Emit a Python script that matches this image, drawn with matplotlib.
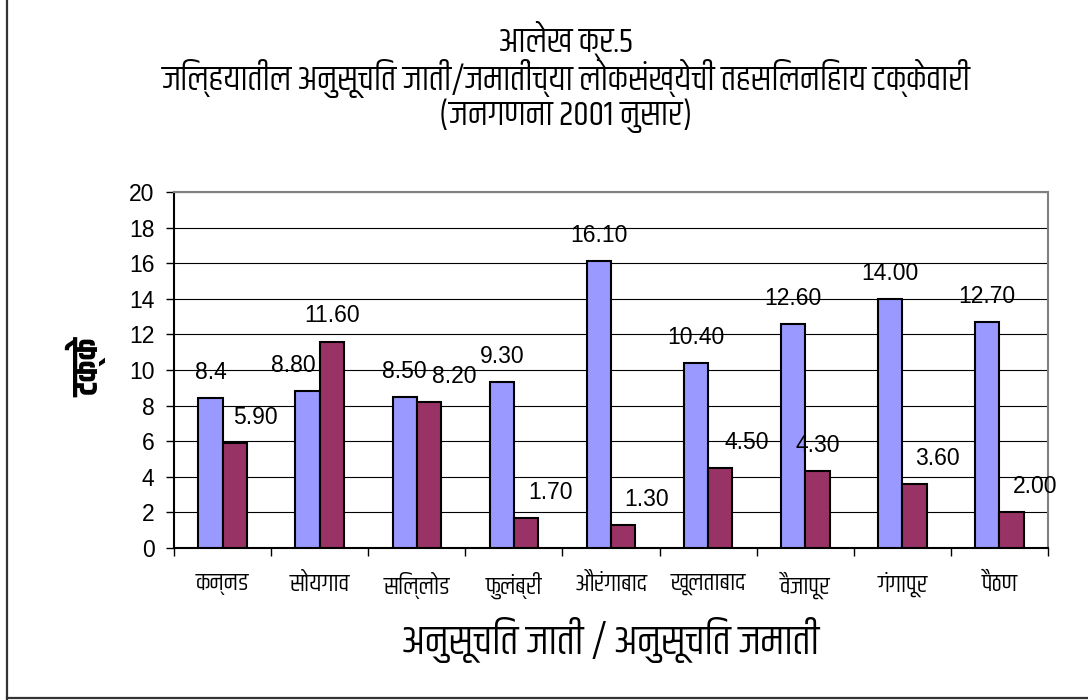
import matplotlib
matplotlib.use("Agg")
import matplotlib.pyplot as plt
import numpy as np
from matplotlib import font_manager
from matplotlib.lines import Line2D

# ---------------- data ----------------
title_lines = ["आलेख क्र.5",
               "जिल्हयातील अनुसूचित जाती/जमातींच्या लोकसंख्येची तहसिलनिहाय टक्केवारी",
               "(जनगणना 2001 नुसार)"]
categories = ["कन्नड", "सोयगाव", "सिल्लोड", "फुलंब्री", "औरंगाबाद",
              "खूलताबाद", "वैजापूर", "गंगापूर", "पैठण"]
sc_values = [8.4, 8.8, 8.5, 9.3, 16.1, 10.4, 12.6, 14.0, 12.7]
st_values = [5.9, 11.6, 8.2, 1.7, 1.3, 4.5, 4.3, 3.6, 2.0]
sc_labels = ["8.4", "8.80", "8.50", "9.30", "16.10", "10.40", "12.60", "14.00", "12.70"]
st_labels = ["5.90", "11.60", "8.20", "1.70", "1.30", "4.50", "4.30", "3.60", "2.00"]
yticks = [0, 2, 4, 6, 8, 10, 12, 14, 16, 18, 20]
xlabel = "अनुसूचित जाती / अनुसूचित जमाती"
ylabel = "टक्के"

# label horizontal shifts (in bar widths), mimicking the original placement
sc_shift = [0, -0.6, 0, 0, 0, 0, 0, 0, 0]
st_shift = [0.85, 0, 1.05, 1.0, 0.95, 1.1, 0, 0.95, 0.95]

# ---------------- fonts ----------------
available = {f.name for f in font_manager.fontManager.ttflist}
deva_font = next((n for n in ["Khand", "Rajdhani", "Noto Sans Devanagari", "FreeSans"]
                  if n in available), "DejaVu Sans")
num_font = next((n for n in ["Liberation Sans", "DejaVu Sans"] if n in available),
                "DejaVu Sans")
deva_fam = [deva_font, "DejaVu Sans"]
plt.rcParams["font.family"] = [num_font, "DejaVu Sans"]

# ---------------- figure ----------------
fig = plt.figure(figsize=(10.88, 7.0), dpi=100)
ax = fig.add_axes([174 / 1088, 1 - 548 / 700, (1048 - 174) / 1088, (548 - 192) / 700])

x = np.arange(len(categories))
w = 0.25
blue = "#9999FF"
red = "#993366"
ax.bar(x - w / 2, sc_values, w, color=blue, edgecolor="black", linewidth=1.5, zorder=3)
ax.bar(x + w / 2, st_values, w, color=red, edgecolor="black", linewidth=1.5, zorder=3)

nsize = 16.5
for i in range(len(categories)):
    ax.annotate(sc_labels[i], (x[i] - w / 2 + sc_shift[i] * w, sc_values[i]),
                xytext=(0, 18.5), textcoords="offset points", ha="center", va="center",
                fontsize=nsize, zorder=4)
    ax.annotate(st_labels[i], (x[i] + w / 2 + st_shift[i] * w, st_values[i]),
                xytext=(0, 18.5), textcoords="offset points", ha="center", va="center",
                fontsize=nsize, zorder=4)

ax.set_xlim(-0.5, len(categories) - 0.5)
ax.set_ylim(0, 20)
ax.set_yticks(yticks)
ax.set_yticklabels([str(t) for t in yticks], fontsize=nsize)
ax.yaxis.grid(True, color="black", linewidth=0.8, zorder=0)
ax.set_axisbelow(True)

ax.set_xticks(np.arange(-0.5, len(categories), 1.0))
ax.set_xticklabels([])
ax.set_xticks(x, minor=True)
ax.set_xticklabels(categories, minor=True, fontsize=18, family=deva_fam)
ax.tick_params(axis="x", which="minor", length=0, pad=17)
ax.tick_params(axis="x", which="major", length=6, width=1, color="black", direction="out")
ax.tick_params(axis="y", length=6, width=1, color="black", direction="out", pad=8)

for s in ["top", "right"]:
    ax.spines[s].set_color("#808080")
    ax.spines[s].set_linewidth(1.5)
for s in ["left", "bottom"]:
    ax.spines[s].set_color("black")
    ax.spines[s].set_linewidth(1.5)

# titles and axis labels
tsize = 25
tx = 566 / 1088
fig.text(tx, 1 - 40 / 700, title_lines[0], ha="center", va="center", fontsize=tsize, family=deva_fam)
fig.text(tx, 1 - 78 / 700, title_lines[1], ha="center", va="center", fontsize=tsize, family=deva_fam)
fig.text(tx, 1 - 116 / 700, title_lines[2], ha="center", va="center", fontsize=tsize, family=deva_fam)
fig.text(611 / 1088, 1 - 640 / 700, xlabel, ha="center", va="center", fontsize=29.5, family=deva_fam)
fig.text(87 / 1088, 1 - 368 / 700, ylabel, ha="center", va="center", fontsize=25,
         fontweight="bold", rotation=90, family=deva_fam)

# outer frame (left and bottom edges visible)
fig.add_artist(Line2D([7 / 1088, 7 / 1088], [0, 1], transform=fig.transFigure,
                      color="#333333", linewidth=1.6))
fig.add_artist(Line2D([7 / 1088, 1], [2 / 700, 2 / 700], transform=fig.transFigure,
                      color="#333333", linewidth=1.6))

fig.savefig("out.png", dpi=100)
